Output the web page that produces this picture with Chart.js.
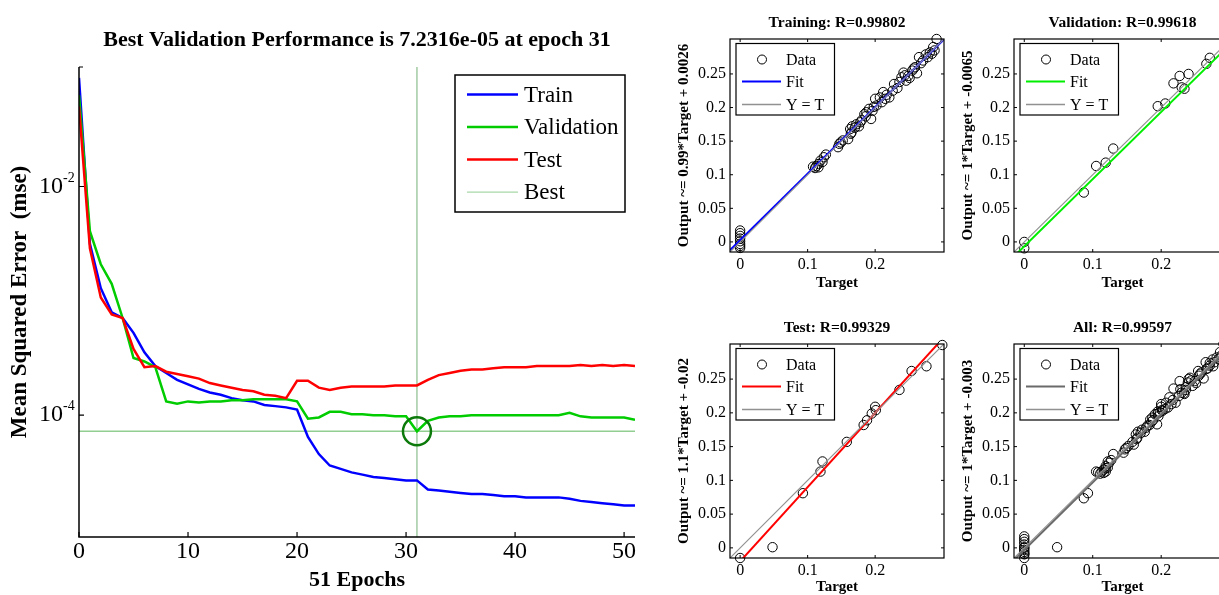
<!DOCTYPE html>
<html><head><meta charset="utf-8">
<script src="https://cdn.jsdelivr.net/npm/chart.js@4"></script>
<style>
html,body{margin:0;padding:0;background:#fff;overflow:hidden;width:1219px;height:595px;position:relative;}
canvas{position:absolute;}
</style></head><body>
<canvas id="perf" width="660" height="595" style="left:0;top:0"></canvas>
<canvas id="regTrain" width="280" height="300" style="left:670px;top:0"></canvas>
<canvas id="regVal" width="300" height="300" style="left:940px;top:0"></canvas>
<canvas id="regTest" width="280" height="300" style="left:670px;top:300px"></canvas>
<canvas id="regAll" width="300" height="300" style="left:940px;top:300px"></canvas>
<script>
// ---------------- DATA ----------------
const epochs = [0,1,2,3,4,5,6,7,8,9,10,11,12,13,14,15,16,17,18,19,20,21,22,23,24,25,26,27,28,29,30,31,32,33,34,35,36,37,38,39,40,41,42,43,44,45,46,47,48,49,50,51];
const trainPerf = [0.0891,0.00316,0.00129,7.94e-4,7.08e-4,5.25e-4,3.55e-4,2.69e-4,2.34e-4,2.04e-4,1.86e-4,1.70e-4,1.58e-4,1.51e-4,1.41e-4,1.35e-4,1.32e-4,1.23e-4,1.20e-4,1.17e-4,1.12e-4,6.46e-5,4.57e-5,3.63e-5,3.39e-5,3.16e-5,3.02e-5,2.88e-5,2.82e-5,2.75e-5,2.69e-5,2.69e-5,2.24e-5,2.19e-5,2.14e-5,2.09e-5,2.04e-5,2.04e-5,2.00e-5,1.95e-5,1.95e-5,1.91e-5,1.91e-5,1.91e-5,1.91e-5,1.86e-5,1.78e-5,1.74e-5,1.70e-5,1.66e-5,1.62e-5,1.62e-5];
const valPerf = [0.0631,0.00407,0.00209,0.00141,7.08e-4,3.16e-4,2.95e-4,2.63e-4,1.32e-4,1.26e-4,1.32e-4,1.29e-4,1.32e-4,1.32e-4,1.35e-4,1.35e-4,1.38e-4,1.38e-4,1.38e-4,1.38e-4,1.32e-4,9.33e-5,9.55e-5,1.07e-4,1.07e-4,1.02e-4,1.02e-4,1.00e-4,1.00e-4,9.77e-5,9.77e-5,7.2316e-5,8.91e-5,9.55e-5,9.77e-5,9.77e-5,1.00e-4,1.00e-4,1.00e-4,1.00e-4,1.00e-4,1.00e-4,1.00e-4,1.00e-4,1.00e-4,1.05e-4,9.77e-5,9.55e-5,9.55e-5,9.55e-5,9.55e-5,9.12e-5];
const testPerf = [0.0501,0.00288,0.00107,7.59e-4,7.08e-4,3.80e-4,2.63e-4,2.69e-4,2.40e-4,2.29e-4,2.19e-4,2.09e-4,1.91e-4,1.82e-4,1.74e-4,1.66e-4,1.62e-4,1.51e-4,1.48e-4,1.41e-4,2.00e-4,2.00e-4,1.74e-4,1.66e-4,1.74e-4,1.78e-4,1.78e-4,1.78e-4,1.78e-4,1.82e-4,1.82e-4,1.82e-4,2.04e-4,2.24e-4,2.34e-4,2.45e-4,2.51e-4,2.51e-4,2.57e-4,2.63e-4,2.63e-4,2.63e-4,2.69e-4,2.69e-4,2.69e-4,2.69e-4,2.75e-4,2.69e-4,2.75e-4,2.69e-4,2.75e-4,2.69e-4];
const bestEpoch = 31;
const bestPerf = 7.2316e-5;
const perfXMax = 51;
const perfYMin = 8.6e-6, perfYMax = 0.111;
const perfXTicks = [0,10,20,30,40,50];
const perfYTicks = [1e-4, 1e-2];
const perfYTickExp = ['-4','-2'];
const perfTitle = 'Best Validation Performance is 7.2316e-05 at epoch 31';

// regression data: [target, output]
const trainPairs = [[0,0.017],[0,0.013],[0,0.009],[0,0.005],[0,0.001],[0,-0.003],[0,-0.006],[0,-0.009],
 [0.108,0.112],[0.111,0.110],[0.113,0.113],[0.116,0.111],[0.116,0.116],[0.119,0.121],[0.122,0.119],[0.124,0.126],[0.127,0.130],
 [0.145,0.141],[0.147,0.146],[0.149,0.148],[0.152,0.151],[0.160,0.153],
 [0.163,0.168],[0.164,0.161],[0.165,0.163],[0.166,0.172],[0.170,0.170],[0.172,0.175],[0.176,0.172],[0.178,0.178],[0.180,0.181],[0.184,0.190],[0.186,0.187],[0.187,0.193],[0.191,0.198],[0.194,0.183],[0.196,0.195],[0.198,0.201],[0.200,0.213],[0.202,0.203],
 [0.207,0.215],[0.210,0.208],[0.212,0.223],[0.215,0.213],[0.217,0.219],[0.221,0.215],[0.226,0.225],[0.228,0.235],[0.233,0.229],[0.236,0.238],[0.239,0.245],[0.242,0.252],[0.244,0.248],[0.246,0.240],[0.249,0.247],[0.251,0.244],[0.255,0.255],[0.257,0.258],[0.259,0.260],[0.262,0.251],[0.265,0.275],[0.268,0.266],[0.271,0.270],[0.275,0.279],[0.278,0.275],[0.281,0.282],[0.284,0.280],[0.286,0.290],[0.288,0.285],[0.291,0.302]];
const valPairs = [[0,0.0],[0,-0.0095],[0.087,0.0735],[0.105,0.113],[0.119,0.118],[0.130,0.139],[0.195,0.202],[0.206,0.206],[0.218,0.236],[0.227,0.247],[0.230,0.230],[0.234,0.228],[0.240,0.250],[0.266,0.265],[0.271,0.274]];
const testPairs = [[0,-0.015],[0.048,0.001],[0.093,0.081],[0.119,0.113],[0.122,0.128],[0.158,0.157],[0.183,0.182],[0.188,0.189],[0.195,0.199],[0.200,0.209],[0.201,0.204],[0.236,0.234],[0.254,0.262],[0.276,0.269],[0.2995,0.3005]];
const allPairs = trainPairs.concat(valPairs, testPairs);
const regTitles = ['Training: R=0.99802','Validation: R=0.99618','Test: R=0.99329','All: R=0.99597'];
const regYLabels = ['Output ~= 0.99*Target + 0.0026','Output ~= 1*Target + -0.0065','Output ~= 1.1*Target + -0.02','Output ~= 1*Target + -0.003'];
const fitSlope = [0.99, 1, 1.1, 1];
const fitIntercept = [0.0026, -0.0065, -0.02, -0.003];
const regMin = -0.015, regMax = 0.302;
const regXTicks = [0,0.1,0.2];
const regXTickLabels = ['0','0.1','0.2'];
const regYTicks = [0,0.05,0.1,0.15,0.2,0.25];
const regYTickLabels = ['0','0.05','0.1','0.15','0.2','0.25'];

// ---------------- STYLE ----------------
const SERIF = "'Liberation Serif','Times New Roman',serif";
Chart.defaults.font.family = SERIF;
Chart.defaults.color = '#000';

// ---------------- PERFORMANCE CHART ----------------
const perfPlugin = {
  id: 'perfAxes',
  afterDraw(chart) {
    const {ctx, chartArea: a, scales: {x, y}} = chart;
    ctx.save();
    ctx.strokeStyle = '#000';
    ctx.lineWidth = 1.5;
    ctx.beginPath();
    ctx.moveTo(a.left, a.top); ctx.lineTo(a.left, a.bottom); ctx.lineTo(a.right, a.bottom);
    ctx.stroke();
    ctx.lineWidth = 1.2;
    ctx.beginPath();
    perfXTicks.forEach(v => { const px = x.getPixelForValue(v); ctx.moveTo(px, a.bottom); ctx.lineTo(px, a.bottom - 5); });
    perfYTicks.forEach(v => { const py = y.getPixelForValue(v); ctx.moveTo(a.left, py); ctx.lineTo(a.left + 5, py); });
    ctx.moveTo(a.left, a.top); ctx.lineTo(a.left + 4, a.top);
    ctx.stroke();
    // y tick labels with superscripts
    ctx.fillStyle = '#000';
    perfYTicks.forEach((v, i) => {
      const py = y.getPixelForValue(v);
      ctx.font = '24px ' + SERIF; ctx.textAlign = 'right'; ctx.textBaseline = 'middle';
      ctx.fillText('10', a.left - 16, py);
      ctx.font = '14px ' + SERIF; ctx.textAlign = 'left'; ctx.textBaseline = 'alphabetic';
      ctx.fillText(perfYTickExp[i], a.left - 16, py - 5);
    });
    // legend
    const bl = a.right - 180, bt = a.top + 8, bw = 170, bh = 137;
    ctx.fillStyle = '#fff';
    ctx.fillRect(bl, bt, bw, bh);
    ctx.strokeStyle = '#000'; ctx.lineWidth = 1.5;
    ctx.strokeRect(bl, bt, bw, bh);
    const items = [0, 1, 2, 3];
    items.forEach((di, i) => {
      const ds = chart.data.datasets[di];
      const ry = bt + 19.6 + i * 32.5;
      ctx.strokeStyle = ds.legendColor || ds.borderColor;
      ctx.lineWidth = ds.legendWidth || ds.borderWidth;
      ctx.beginPath(); ctx.moveTo(bl + 12, ry); ctx.lineTo(bl + 63, ry); ctx.stroke();
      ctx.fillStyle = '#000';
      ctx.font = '23px ' + SERIF; ctx.textAlign = 'left'; ctx.textBaseline = 'middle';
      ctx.fillText(ds.label, bl + 69, ry + 1);
    });
    ctx.restore();
  }
};

const pts = arr => epochs.map((e, i) => ({x: e, y: arr[i]}));
new Chart(document.getElementById('perf'), {
  type: 'line',
  data: { datasets: [
    {label: 'Train', data: pts(trainPerf), borderColor: '#0000ff', borderWidth: 2.5, pointRadius: 0, order: 3},
    {label: 'Validation', data: pts(valPerf), borderColor: '#00cc00', borderWidth: 2.5, pointRadius: 0, order: 2},
    {label: 'Test', data: pts(testPerf), borderColor: '#ff0000', borderWidth: 2.5, pointRadius: 0, order: 1},
    {label: 'Best', data: [{x: 0, y: bestPerf}, {x: perfXMax, y: bestPerf}], borderColor: 'rgba(110,190,110,0.75)', borderWidth: 1.6, pointRadius: 0, order: 6, legendWidth: 1},
    {label: 'bestV', data: [{x: bestEpoch, y: perfYMin}, {x: bestEpoch, y: perfYMax}], borderColor: 'rgba(90,165,90,0.85)', borderWidth: 1, pointRadius: 0, order: 5},
    {label: 'bestPt', data: [{x: bestEpoch, y: bestPerf}], showLine: false, pointRadius: 14, pointBorderColor: '#0b7a0b', pointBackgroundColor: 'rgba(0,0,0,0)', pointBorderWidth: 2.5, clip: false, order: 0}
  ]},
  options: {
    responsive: false, animation: false, events: [],
    layout: {padding: {left: 0, right: 25, top: 0, bottom: 0}},
    plugins: {
      legend: {display: false}, tooltip: {enabled: false},
      title: {display: true, text: perfTitle, fullSize: false, color: '#000',
        font: {family: SERIF, size: 22, weight: 'bold', lineHeight: 1.2}, padding: {top: 27, bottom: 13.6}}
    },
    scales: {
      x: {type: 'linear', min: 0, max: perfXMax,
        afterBuildTicks: s => { s.ticks = perfXTicks.map(v => ({value: v})); },
        grid: {display: false, drawTicks: false}, border: {display: false},
        ticks: {font: {family: SERIF, size: 24}, color: '#000', padding: 0, maxRotation: 0, autoSkip: false, callback: v => String(v)},
        title: {display: true, text: (epochs.length - 1) + ' Epochs', color: '#000', font: {family: SERIF, size: 22, weight: 'bold', lineHeight: 1.2}, padding: {top: 0, bottom: 1}},
        afterFit: s => { s.height = 58; }},
      y: {type: 'logarithmic', min: perfYMin, max: perfYMax,
        afterBuildTicks: s => { s.ticks = perfYTicks.map(v => ({value: v})); },
        grid: {display: false, drawTicks: false}, border: {display: false},
        ticks: {display: false},
        title: {display: true, text: 'Mean Squared Error  (mse)', color: '#000', font: {family: SERIF, size: 23, weight: 'bold', lineHeight: 1.2}, padding: {top: 6.5, bottom: 0}},
        afterFit: s => { s.width = 79; }}
    }
  },
  plugins: [perfPlugin]
});

// ---------------- REGRESSION CHARTS ----------------
const regPlugin = {
  id: 'regAxes',
  afterDraw(chart) {
    const {ctx, chartArea: a, scales: {x, y}} = chart;
    ctx.save();
    ctx.strokeStyle = '#000'; ctx.lineWidth = 1.2;
    ctx.strokeRect(a.left, a.top, a.right - a.left, a.bottom - a.top);
    ctx.lineWidth = 1;
    ctx.beginPath();
    regXTicks.forEach(v => { const px = x.getPixelForValue(v);
      ctx.moveTo(px, a.bottom); ctx.lineTo(px, a.bottom - 3);
      ctx.moveTo(px, a.top); ctx.lineTo(px, a.top + 3); });
    regYTicks.forEach(v => { const py = y.getPixelForValue(v);
      ctx.moveTo(a.left, py); ctx.lineTo(a.left + 3, py);
      ctx.moveTo(a.right, py); ctx.lineTo(a.right - 3, py); });
    ctx.stroke();
    // legend
    const ds = chart.data.datasets;
    const bl = a.left + 6, bt = a.top + 4.5, bw = 98.5, bh = 71.5;
    ctx.fillStyle = '#fff'; ctx.fillRect(bl, bt, bw, bh);
    ctx.strokeStyle = '#000'; ctx.lineWidth = 1.2; ctx.strokeRect(bl, bt, bw, bh);
    ctx.font = '16px ' + SERIF; ctx.textAlign = 'left'; ctx.textBaseline = 'middle';
    // Data
    let ry = bt + 16;
    ctx.beginPath(); ctx.arc(bl + 26, ry, 4.5, 0, Math.PI * 2); ctx.strokeStyle = '#000'; ctx.lineWidth = 1; ctx.stroke();
    ctx.fillStyle = '#000'; ctx.fillText(ds[2].label, bl + 50, ry + 1);
    // Fit
    ry = bt + 38;
    ctx.beginPath(); ctx.moveTo(bl + 6, ry); ctx.lineTo(bl + 45, ry); ctx.strokeStyle = ds[1].borderColor; ctx.lineWidth = 2; ctx.stroke();
    ctx.fillText(ds[1].label, bl + 50, ry + 1);
    // Y = T
    ry = bt + 61;
    ctx.beginPath(); ctx.moveTo(bl + 6, ry); ctx.lineTo(bl + 45, ry); ctx.strokeStyle = ds[0].borderColor; ctx.lineWidth = 1.3; ctx.stroke();
    ctx.fillText(ds[0].label, bl + 50, ry + 1);
    ctx.restore();
  }
};

function makeReg(id, idx, pairs, fitColor, geo) {
  const fit = [regMin, regMax].map(t => ({x: t, y: fitSlope[idx] * t + fitIntercept[idx]}));
  new Chart(document.getElementById(id), {
    type: 'scatter',
    data: { datasets: [
      {label: 'Y = T', data: [{x: regMin, y: regMin}, {x: regMax, y: regMax}], showLine: true, borderColor: 'rgb(145,145,145)', borderWidth: 1.2, pointRadius: 0},
      {label: 'Fit', data: fit, showLine: true, borderColor: fitColor, borderWidth: 2, pointRadius: 0},
      {label: 'Data', data: pairs.map(p => ({x: p[0], y: p[1]})), showLine: false, pointRadius: 4.7, pointBorderWidth: 1,
        pointBorderColor: '#000', pointBackgroundColor: 'rgba(0,0,0,0)', clip: false}
    ]},
    options: {
      responsive: false, animation: false, events: [],
      layout: {padding: {left: 0, right: geo.padRight, top: 0, bottom: 0}},
      plugins: {
        legend: {display: false}, tooltip: {enabled: false},
        title: {display: true, text: regTitles[idx], fullSize: false, color: '#000',
          font: {family: SERIF, size: 15.5, weight: 'bold', lineHeight: 1.2}, padding: {top: geo.titleTop, bottom: geo.titleBottom}}
      },
      scales: {
        x: {type: 'linear', min: regMin, max: regMax,
          afterBuildTicks: s => { s.ticks = regXTicks.map(v => ({value: v})); },
          grid: {display: false, drawTicks: false}, border: {display: false},
          ticks: {font: {family: SERIF, size: 16}, color: '#000', padding: 3, maxRotation: 0, autoSkip: false,
            callback: v => regXTickLabels[regXTicks.indexOf(v)]},
          title: {display: true, text: 'Target', color: '#000', font: {family: SERIF, size: 15, weight: 'bold', lineHeight: 1.2}, padding: {top: 0, bottom: geo.xTitleBottom}},
          afterFit: s => { s.height = geo.xHeight; }},
        y: {type: 'linear', min: regMin, max: regMax,
          afterBuildTicks: s => { s.ticks = regYTicks.map(v => ({value: v})); },
          grid: {display: false, drawTicks: false}, border: {display: false},
          ticks: {font: {family: SERIF, size: 16}, color: '#000', padding: 4, autoSkip: false,
            callback: v => regYTickLabels[regYTicks.indexOf(v)]},
          title: {display: true, text: regYLabels[idx], color: '#000', font: {family: SERIF, size: 15, weight: 'bold', lineHeight: 1.2}, padding: {top: geo.yTitleTop, bottom: 0}},
          afterFit: s => { s.width = geo.yWidth; }}
      }
    },
    plugins: [regPlugin]
  });
}

makeReg('regTrain', 0, trainPairs, '#0000ff', {padRight: 6, titleTop: 13.4, titleBottom: 7, xHeight: 48, xTitleBottom: 8, yWidth: 60, yTitleTop: 5.5});
makeReg('regVal', 1, valPairs, '#00ee00', {padRight: 9, titleTop: 13.4, titleBottom: 7, xHeight: 48, xTitleBottom: 8, yWidth: 74, yTitleTop: 19.5});
makeReg('regTest', 2, testPairs, '#ff0000', {padRight: 6, titleTop: 18.7, titleBottom: 6.7, xHeight: 42, xTitleBottom: 4, yWidth: 60, yTitleTop: 5.5});
makeReg('regAll', 3, allPairs, '#6a6a6a', {padRight: 9, titleTop: 18.7, titleBottom: 6.7, xHeight: 42, xTitleBottom: 4, yWidth: 74, yTitleTop: 19.5});
</script>
</body></html>
